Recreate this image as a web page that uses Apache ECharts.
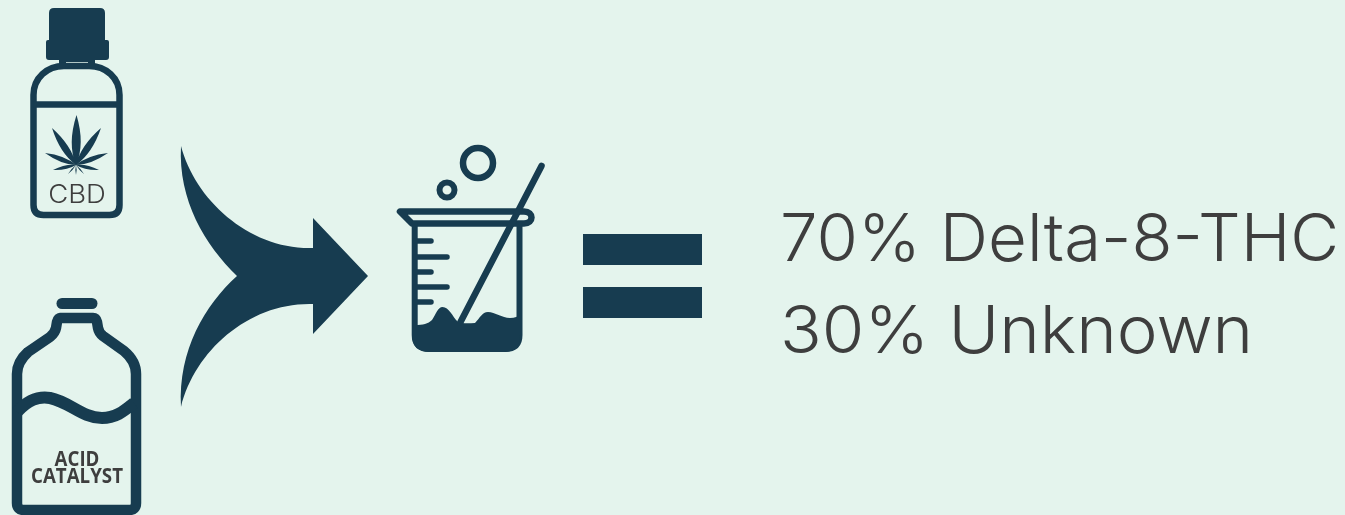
<!DOCTYPE html>
<html><head><meta charset="utf-8">
<style>html,body{margin:0;padding:0;background:#e4f4ed}#c{width:1345px;height:515px;filter:blur(.45px)}</style>
<script src="https://cdn.jsdelivr.net/npm/echarts@6/dist/echarts.min.js"></script>
</head><body><div id="c"></div>
<script>
const resultLines = ['70% Delta-8-THC', '30% Unknown'];
const ingredientOne = 'CBD';
const ingredientTwo = ['ACID', 'CATALYST'];
const DARK = '#173c50', TEXT = '#3e3e3e', BG = '#e4f4ed';

const chart = echarts.init(document.getElementById('c'), null, {renderer: 'canvas'});
const line = (d, w, extra) => ({type: 'path', shape: {pathData: d}, style: Object.assign({fill: 'none', stroke: DARK, lineWidth: w, lineCap: 'round', lineJoin: 'round'}, extra || {})});
const fill = d => ({type: 'path', shape: {pathData: d}, style: {fill: DARK}});
function leaflet(cx, cy, tx, ty, w) {
  const dx = tx - cx, dy = ty - cy, len = Math.hypot(dx, dy), nx = -dy / len * w, ny = dx / len * w;
  const mx = cx + dx * 0.42, my = cy + dy * 0.42;
  return `M${cx} ${cy}Q${mx + nx} ${my + ny} ${tx} ${ty}Q${mx - nx} ${my - ny} ${cx} ${cy}Z`;
}
const leaf = [[76.5,115,9],[52,128,7],[101,128,7],[45,153,5],[108,153,5],[53,170,3.5],[99,170,3.5],[68,174,1.2],[76,175,1.2],[84,174,1.2]]
  .map(t => leaflet(76, 165, t[0], t[1], t[2])).join('');
const text = (s, x, y, size, o) => ({type: 'text', x: x, y: y, scaleX: (o && o.sx) || 1, style: {text: s, x: 0, y: 0, fill: (o && o.fill) || TEXT, font: `${(o && o.weight) || 400} ${size}px ${(o && o.family) || 'Inter'}`, align: (o && o.align) || 'left', verticalAlign: 'middle'}});

const elements = [
  // CBD bottle
  fill('M54 8H100Q105 8 105 13V40H107Q109 40 109 42V57Q109 60 106 60H49Q46 60 46 57V42Q46 40 48 40H49V13Q49 8 54 8Z'),
  fill('M59 59H66V66H59ZM88 59H95V66H88Z'),
  fill('M60 60H94V62H60Z'),
  line('M33.5 95C33.5 78 47 66 64 66H89C106 66 119.5 78 119.5 95V205Q119.5 215 109.5 215H43.5Q33.5 215 33.5 205Z', 6.5),
  line('M33.5 104.500H119.500', 6.5, {lineCap: 'butt'}),
  fill(leaf),
  text(ingredientOne, 77, 195, 25, {align: 'center', weight: 300, sx: 1.1}),
  // acid bottle
  line('M62 303.500H92', 11),
  line('M60 318H93Q96 318 97 322L98 328Q99 333 103 336L124 351Q136 361 136 374V503Q136 510 129 510H24Q17 510 17 503V374Q17 362 28 352L50 337Q55 333 56 328L57 322Q58 318 61 318Z', 10.5),
  line('M17 412C28 400 38 396 50 398C70 402 82 418 102 418C116 418 124 411 134 403', 12, {lineCap: 'butt'}),
  text(ingredientTwo[0], 77, 460, 22, {align: 'center', weight: 700, family: 'Open Sans', sx: 0.85}),
  text(ingredientTwo[1], 77, 477, 22, {align: 'center', weight: 700, family: 'Open Sans', sx: 0.85}),
  // merging arrow
  fill('M181 146C195 200 250 250 313 248V218L368 276L313 334V304C250 302 195 350 181 407C178 350 205 305 237 276C205 245 178 200 181 146Z'),
  // beaker
  {type: 'circle', shape: {cx: 478, cy: 163, r: 15}, style: {fill: 'none', stroke: DARK, lineWidth: 6.5}},
  {type: 'circle', shape: {cx: 447, cy: 190, r: 7.5}, style: {fill: 'none', stroke: DARK, lineWidth: 6}},
  line('M400 211.500H524C534 211.500 534 223.500 524 223.500H412Z', 6.5),
  line('M414.700 224V335Q414.700 349 430 349H505Q519.500 349 519.500 335V224', 6),
  fill('M415 325C423 325 428 324 432 320C436 314 438 307 442.500 307C449 307 452 316 458 322C464 324 470 323 475 323C480 318 482 312 488 312C495 312 502 318 510 318C515 318 518 316 520 315V335Q520 352 503 352H430Q412 352 412 335V325Z'),
  line('M415 241H431M415 257H447M415 272H431M415 287H447M415 302H431', 5.500),
  line('M541.500 166L460.500 322', 6.5),
  // equals
  {type: 'rect', shape: {x: 583, y: 234, width: 119, height: 31}, style: {fill: DARK}},
  {type: 'rect', shape: {x: 583, y: 287, width: 119, height: 31}, style: {fill: DARK}},
  // result
  text(resultLines[0], 780, 241, 66, {weight: 300, sx: 1.017}),
  text(resultLines[1], 780, 333, 66, {weight: 300, sx: 1.045})
];
chart.setOption({
  backgroundColor: BG,
  animation: false,
  series: [{
    type: 'custom',
    coordinateSystem: 'none',
    silent: true,
    data: [0],
    clip: false,
    renderItem: () => ({type: 'group', children: elements})
  }]
});
</script></body></html>
